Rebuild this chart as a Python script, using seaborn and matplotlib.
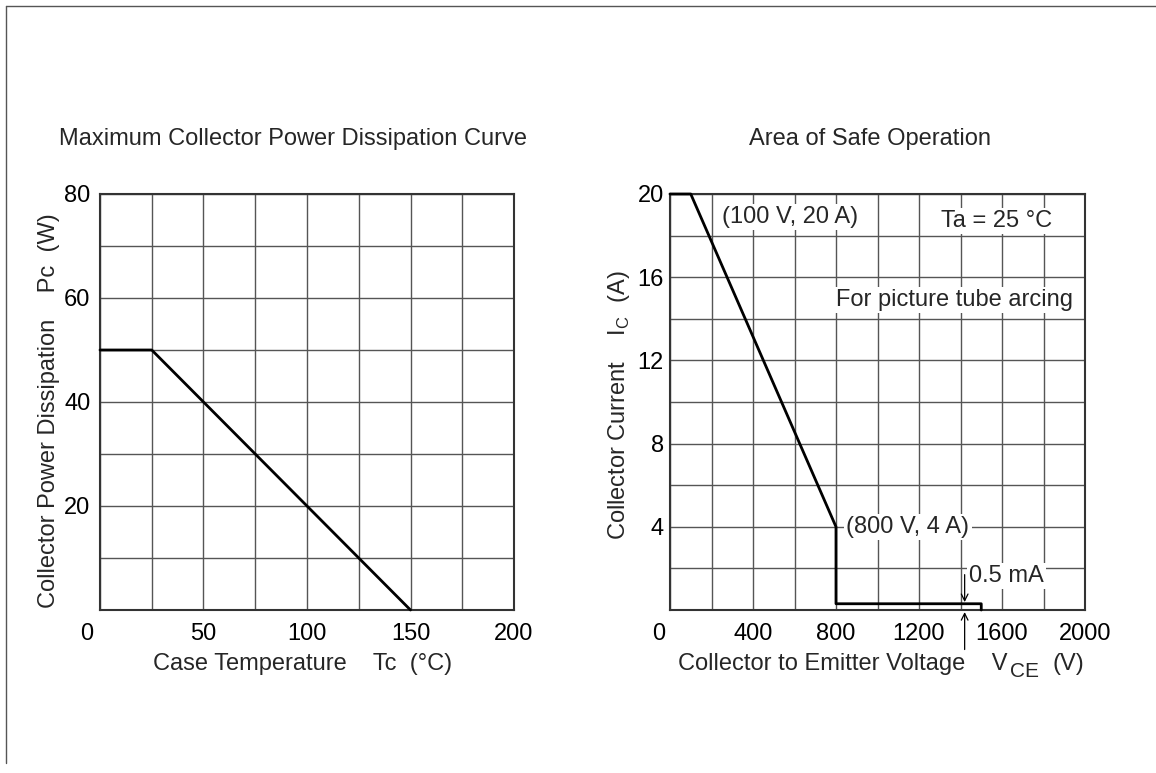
import numpy as np
import pandas as pd
import matplotlib
matplotlib.use('Agg')
import matplotlib.pyplot as plt
import matplotlib.transforms as mtransforms
from matplotlib.lines import Line2D
from matplotlib.ticker import MultipleLocator
import seaborn as sns

# Maximum collector power dissipation curve (derating)
tc_temp = [0, 25, 150]
pc_watts = [50, 50, 0]

# Area of safe operation (for picture tube arcing)
vce_volts = [0, 100, 800, 800, 1500, 1500]
ic_amps = [20, 20, 4, 0.3, 0.3, 0]

# Tick labels
pc_xticks = [0, 50, 100, 150, 200]
pc_yticks = [20, 40, 60, 80]
soa_xticks = [0, 400, 800, 1200, 1600, 2000]
soa_yticks = [4, 8, 12, 16, 20]

# Text notes on the SOA chart: (text, V, A, ha)
soa_notes = [
    ('(100 V, 20 A)', 580, 18.9, 'center'),
    ('Ta = 25 \u00b0C', 1575, 18.7, 'center'),
    ('For picture tube arcing', 1370, 14.9, 'center'),
    ('(800 V, 4 A)', 850, 4.0, 'left'),
    ('0.5 mA', 1440, 1.65, 'left'),
]
arrow_v = 1420

sns.set_theme(style='white')
plt.rcParams['font.family'] = ['Liberation Sans', 'DejaVu Sans']
plt.rcParams['mathtext.fontset'] = 'custom'
plt.rcParams['mathtext.rm'] = 'Liberation Sans'

FS = 17
W, H = 1156, 773

fig = plt.figure(figsize=(W / 100, H / 100), dpi=100)
fig.patch.set_facecolor('white')


def px_rect(x0, y0, x1, y1):
    # pixel box -> figure fraction [left, bottom, width, height]
    return [x0 / W, 1 - y1 / H, (x1 - x0) / W, (y1 - y0) / H]


ax1 = fig.add_axes(px_rect(100, 194, 514, 610))
ax2 = fig.add_axes(px_rect(670, 194, 1085, 610))

df_pc = pd.DataFrame({'tc': tc_temp, 'pc': pc_watts})
df_soa = pd.DataFrame({'vce': vce_volts, 'ic': ic_amps})

sns.lineplot(data=df_pc, x='tc', y='pc', ax=ax1, sort=False, estimator=None,
             color='black', linewidth=2.0, clip_on=False, zorder=5)
sns.lineplot(data=df_soa, x='vce', y='ic', ax=ax2, sort=False, estimator=None,
             color='black', linewidth=2.0, clip_on=False, zorder=5)


def style_axes(ax, xticks, xminor, yticks, yminor, ypad, zero_shift):
    ax.set_xlim(xticks[0], xticks[-1])
    ax.set_ylim(0, yticks[-1])
    ax.set_xticks(xticks)
    ax.set_xticklabels([str(t) for t in xticks])
    ax.set_yticks(yticks)
    ax.set_yticklabels([str(t) for t in yticks])
    ax.xaxis.set_minor_locator(MultipleLocator(xminor))
    ax.yaxis.set_minor_locator(MultipleLocator(yminor))
    ax.grid(which='both', color='#555555', linewidth=1.0)
    ax.set_axisbelow(True)
    ax.tick_params(which='both', length=0, labelsize=FS, colors='black')
    ax.tick_params(axis='x', pad=9)
    ax.tick_params(axis='y', pad=ypad)
    for s in ax.spines.values():
        s.set_visible(True)
        s.set_color('#333333')
        s.set_linewidth(1.5)
    ax.set_xlabel('')
    ax.set_ylabel('')
    # the "0" under the corner sits a bit to the left
    lbl = ax.get_xticklabels()[0]
    off = mtransforms.ScaledTranslation(-zero_shift / 100, 0, fig.dpi_scale_trans)
    lbl.set_transform(lbl.get_transform() + off)


style_axes(ax1, pc_xticks, 25, pc_yticks, 10, 7, 13)
style_axes(ax2, soa_xticks, 200, soa_yticks, 2, 4.5, 11)

# notes with white boxes that hide the grid behind them
for txt, x, y, ha in soa_notes:
    ax2.text(x, y, txt, ha=ha, va='center', fontsize=FS, zorder=6,
             bbox=dict(facecolor='white', edgecolor='none', pad=1.5))

# 0.5 mA marker arrows
ax2.annotate('', xy=(arrow_v, 0.38), xytext=(arrow_v, 1.7),
             arrowprops=dict(arrowstyle='->', lw=0.9, color='black',
                             shrinkA=0, shrinkB=0), annotation_clip=False, zorder=7)
ax2.annotate('', xy=(arrow_v, -0.1), xytext=(arrow_v, -1.9),
             arrowprops=dict(arrowstyle='->', lw=0.9, color='black',
                             shrinkA=0, shrinkB=0), annotation_clip=False, zorder=7)

# titles
fig.text(293 / W, 1 - 139 / H, 'Maximum Collector Power Dissipation Curve',
         ha='center', va='center', fontsize=FS)
fig.text(870 / W, 1 - 139 / H, 'Area of Safe Operation',
         ha='center', va='center', fontsize=FS)

# axis labels
fig.text(303 / W, 1 - 670 / H, 'Case Temperature    Tc  (\u00b0C)',
         ha='center', va='baseline', fontsize=FS)

# V_CE label built from pieces so the subscript stays nearly full size
vlab = fig.text(678 / W, 1 - 670 / H, 'Collector to Emitter Voltage    V',
                ha='left', va='baseline', fontsize=FS)
sub = ax2.annotate('CE', xy=(1, 0), xycoords=vlab, xytext=(1.5, -1.5),
                   textcoords='offset points', ha='left', va='baseline',
                   fontsize=FS - 2, annotation_clip=False)
ax2.annotate('(V)', xy=(1, 0), xycoords=(sub, vlab), xytext=(10, 0),
             textcoords='offset points', ha='left', va='bottom',
             fontsize=FS, annotation_clip=False)

fig.text(49 / W, 1 - 411 / H, 'Collector Power Dissipation    Pc  (W)',
         ha='center', va='center', rotation=90, fontsize=FS)
fig.text(619 / W, 1 - 405 / H, 'Collector Current    I$_\\mathregular{C}$  (A)',
         ha='center', va='center', rotation=90, fontsize=FS)

# outer frame (top and left edges only visible)
fig.add_artist(Line2D([6 / W, 1], [1 - 6 / H, 1 - 6 / H], transform=fig.transFigure,
                      color='#555555', linewidth=1.0))
fig.add_artist(Line2D([6 / W, 6 / W], [1 - 6 / H, 1 - 763 / H], transform=fig.transFigure,
                      color='#555555', linewidth=1.0))

fig.savefig('out.png', dpi=100, facecolor='white')
